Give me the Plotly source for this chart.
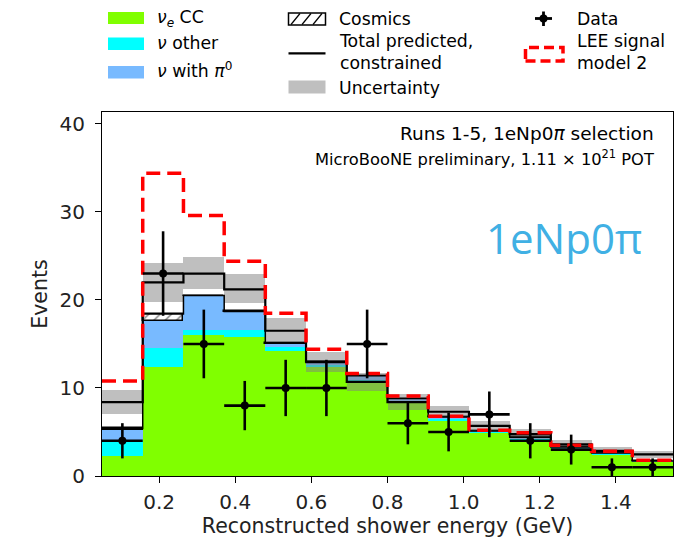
import plotly.graph_objects as go
import numpy as np

# ---------------- data ----------------
bin_edges = [0.05, 0.157, 0.264, 0.371, 0.479, 0.586, 0.693, 0.800,
             0.907, 1.014, 1.121, 1.229, 1.336, 1.443, 1.55]
nue_cc   = [2.3, 12.4, 16.0, 15.8, 14.2, 12.4, 10.6, 8.3, 6.3, 4.9, 4.2, 3.1, 2.4, 1.6]
nu_other = [1.8, 2.1, 0.6, 0.8, 0.5, 0.2, 0.3, 0.2, 0.2, 0.1, 0.1, 0.1, 0.1, 0.05]
nu_pi0   = [1.1, 3.1, 3.8, 2.0, 0.3, 0.3, 0.5, 0.3, 0.2, 0.1, 0.1, 0.1, 0.1, 0.05]
cosmics  = [0.2, 0.8, 0.1, 0.1, 0.1, 0.0, 0.0, 0.0, 0.0, 0.0, 0.0, 0.0, 0.0, 0.0]
constrained = [8.4, 22.0, 23.0, 21.2, 16.5, 13.0, 10.7, 8.4, 7.3, 5.7, 4.75, 3.6, 2.85, 2.45]
unc_low  = [7.1, 19.8, 21.2, 19.6, 15.2, 11.8, 9.6, 7.5, 6.6, 5.0, 4.2, 3.1, 2.45, 2.1]
unc_high = [9.75, 24.2, 24.9, 23.0, 17.9, 14.1, 11.7, 9.3, 8.0, 6.3, 5.3, 4.1, 3.25, 2.8]
lee_model2 = [10.8, 34.4, 29.6, 24.4, 18.5, 14.4, 11.65, 9.1, 6.8, 5.2, 4.9, 3.5, 2.8, 1.8]
data_counts = [4, 23, 15, 8, 10, 10, 15, 6, 5, 7, 4, 3, 1, 1]
data_err    = [2.0, 4.8, 3.9, 2.8, 3.2, 3.2, 3.9, 2.4, 2.2, 2.6, 2.0, 1.7, 1.0, 1.0]
x_ticks = [0.2, 0.4, 0.6, 0.8, 1.0, 1.2, 1.4]
x_ticklabels = ["0.2", "0.4", "0.6", "0.8", "1.0", "1.2", "1.4"]
y_ticks = [0, 10, 20, 30, 40]

# ---------------- derived ----------------
edges = np.array(bin_edges)
centers = (edges[:-1] + edges[1:]) / 2
widths = edges[1:] - edges[:-1]

FONT = "DejaVu Sans"
W, H = 679, 542
ML, MR, MT, MB = 102, 6, 112, 66
PW, PH = W - ML - MR, H - MT - MB


def X(px):
    return (px - ML) / PW


def Y(py):
    return (H - MB - py) / PH


def step(vals):
    v = list(vals)
    return list(edges), v + [v[-1]]


fig = go.Figure()

base = np.zeros(len(centers))
for vals, color in [(nue_cc, "#80FF00"), (nu_other, "#00FFFF"), (nu_pi0, "#78BAFF")]:
    fig.add_trace(go.Bar(x=centers, y=vals, base=base.copy(), width=widths,
                         marker=dict(color=color, line=dict(width=0)),
                         showlegend=False, hoverinfo="skip"))
    base = base + np.array(vals)

fig.add_trace(go.Bar(x=centers, y=cosmics, base=base.copy(), width=widths,
                     marker=dict(color="white",
                                 pattern=dict(shape="/", fgcolor="black", bgcolor="white",
                                              size=8, solidity=0.18),
                                 line=dict(color="black", width=1.5)),
                     showlegend=False, hoverinfo="skip"))
stack_top = base + np.array(cosmics)

# uncertainty band
lo = np.array(unc_low)
hi = np.array(unc_high)
fig.add_trace(go.Bar(x=centers, y=hi - lo, base=lo, width=widths,
                     marker=dict(color="rgba(128,128,128,0.5)", line=dict(width=0)),
                     showlegend=False, hoverinfo="skip"))

# stack outline
sx, sy = step(stack_top)
fig.add_trace(go.Scatter(x=sx, y=sy, mode="lines", line=dict(color="black", width=1.5, shape="hv"),
                         showlegend=False, hoverinfo="skip"))
# constrained total
cx, cy = step(constrained)
fig.add_trace(go.Scatter(x=cx, y=cy, mode="lines", line=dict(color="black", width=2.2, shape="hv"),
                         showlegend=False, hoverinfo="skip"))
# LEE model 2
lx, ly = step(lee_model2)
fig.add_trace(go.Scatter(x=lx, y=ly, mode="lines",
                         line=dict(color="#FF0000", width=3.5, shape="hv", dash="14px,7px"),
                         showlegend=False, hoverinfo="skip"))
# data
fig.add_trace(go.Scatter(x=centers, y=data_counts, mode="markers",
                         marker=dict(color="black", size=8),
                         error_x=dict(type="data", array=widths / 2, color="black", thickness=2.6, width=0),
                         error_y=dict(type="data", array=data_err, color="black", thickness=2.6, width=0),
                         showlegend=False, hoverinfo="skip"))

# ---------------- manual legend ----------------
shapes = []
annots = []


def rect(x0, y0, x1, y1, fill, line=None, dash=None, lw=0):
    d = dict(type="rect", xref="paper", yref="paper", x0=X(x0), x1=X(x1), y0=Y(y1), y1=Y(y0),
             fillcolor=fill, layer="above")
    if line:
        d["line"] = dict(color=line, width=lw, dash=dash) if dash else dict(color=line, width=lw)
    else:
        d["line"] = dict(width=0)
    shapes.append(d)


def seg(x0, y0, x1, y1, color="black", lw=1.5, dash=None):
    ln = dict(color=color, width=lw)
    if dash:
        ln["dash"] = dash
    shapes.append(dict(type="line", xref="paper", yref="paper", x0=X(x0), x1=X(x1),
                       y0=Y(y0), y1=Y(y1), line=ln, layer="above"))


def label(x, y, text, size=17.3):
    annots.append(dict(xref="paper", yref="paper", x=X(x), y=Y(y), text=text, showarrow=False,
                       xanchor="left", yanchor="middle", align="left",
                       font=dict(family=FONT, size=size, color="black")))


# column 1
rect(108, 12, 144, 24, "#80FF00")
label(155, 18.5, "<i>ν</i><sub><i>e</i></sub> CC")
rect(108, 37.5, 144, 50, "#00FFFF")
label(155, 43, "<i>ν</i> other")
rect(108, 66, 144, 78.5, "#78BAFF")
label(155, 70.5, "<i>ν</i> with <i>π</i><sup>0</sup>")

# column 2
rect(288.5, 13, 325.5, 25, "white", line="black", lw=1.5)
for xs in (291, 302, 313):
    seg(xs, 24.5, xs + 9, 13.5, lw=1.2)
label(337, 18.5, "Cosmics")
seg(288.5, 53.3, 325.5, 53.3, lw=2.2)
annots.append(dict(xref="paper", yref="paper", x=X(337), y=Y(52.5),
                   text="Total predicted,<br>constrained", showarrow=False,
                   xanchor="left", yanchor="middle", align="left",
                   font=dict(family=FONT, size=17.3, color="black")))
rect(288.5, 80.5, 325.5, 93.5, "#BFBFBF")
label(337, 87.5, "Uncertainty")

# column 3
seg(535, 18.5, 552, 18.5, lw=2.8)
seg(543.5, 11.5, 543.5, 26, lw=2.8)
shapes.append(dict(type="circle", xref="paper", yref="paper", x0=X(539.5), x1=X(547.5),
                   y0=Y(22.5), y1=Y(14.5), fillcolor="black", line=dict(width=0), layer="above"))
label(575, 18.5, "Data")
rect(525.5, 47.5, 563, 61, "rgba(0,0,0,0)", line="#FF0000", dash="10px,5px", lw=3.5)
annots.append(dict(xref="paper", yref="paper", x=X(575), y=Y(52.5),
                   text="LEE signal<br>model 2", showarrow=False,
                   xanchor="left", yanchor="middle", align="left",
                   font=dict(family=FONT, size=17.3, color="black")))

# in-plot texts
annots.append(dict(xref="paper", yref="paper", x=X(656), y=Y(133.5),
                   text="Runs 1-5, 1eNp0<i>π</i> selection", showarrow=False,
                   xanchor="right", yanchor="middle",
                   font=dict(family=FONT, size=18.5, color="black")))
annots.append(dict(xref="paper", yref="paper", x=X(656), y=Y(158),
                   text="MicroBooNE preliminary, 1.11 × 10<sup>21</sup> POT", showarrow=False,
                   xanchor="right", yanchor="middle",
                   font=dict(family=FONT, size=16.3, color="black")))
annots.append(dict(xref="paper", yref="paper", x=X(484), y=Y(237),
                   text="1eNp0π", showarrow=False,
                   xanchor="left", yanchor="middle",
                   font=dict(family="Open Sans", size=42, color="#40B0E4")))

fig.update_layout(
    width=W, height=H,
    margin=dict(l=ML, r=MR, t=MT, b=MB, pad=0),
    paper_bgcolor="white", plot_bgcolor="white",
    barmode="overlay", bargap=0,
    showlegend=False,
    font=dict(family=FONT, size=20, color="black"),
    shapes=shapes, annotations=annots,
    xaxis=dict(range=[0.05, 1.55], tickmode="array", tickvals=x_ticks, ticktext=x_ticklabels,
               ticks="outside", ticklen=6, tickwidth=1.2, tickcolor="black",
               showline=True, linecolor="black", linewidth=1.2, mirror=True,
               showgrid=False, zeroline=False, ticklabelstandoff=2,
               tickfont=dict(family=FONT, size=20, color="#222222"),
               title=dict(text="Reconstructed shower energy (GeV)", standoff=4,
                          font=dict(family=FONT, size=20.5, color="#222222"))),
    yaxis=dict(range=[0, 41.35], tickmode="array", tickvals=y_ticks,
               ticks="outside", ticklen=6, tickwidth=1.2, tickcolor="black",
               showline=True, linecolor="black", linewidth=1.2, mirror=True,
               showgrid=False, zeroline=False, ticklabelstandoff=6,
               tickfont=dict(family=FONT, size=20, color="#222222"),
               title=dict(text="Events", standoff=6,
                          font=dict(family=FONT, size=20.5, color="#222222"))),
)

fig.write_html("out.html")
